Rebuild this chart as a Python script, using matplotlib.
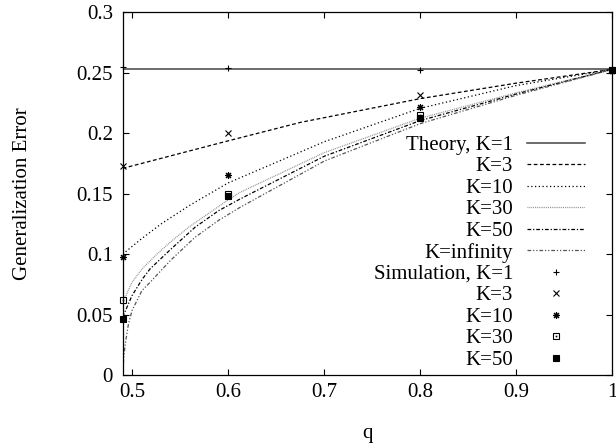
import numpy as np
import matplotlib
matplotlib.use("Agg")
import matplotlib.pyplot as plt
from matplotlib.legend_handler import HandlerTuple

plt.rcParams['font.family'] = ['Liberation Serif', 'DejaVu Serif']
plt.rcParams['font.size'] = 15

# theory curves
q_k1 = [0.49, 1.0]
e_k1 = [0.2529, 0.2529]

q_k3 = [0.49, 0.6, 0.675, 0.8, 0.9, 1.0]
e_k3 = [0.171, 0.1938, 0.209, 0.2287, 0.2415, 0.2529]

q_k10 = [0.49, 0.51, 0.53, 0.56, 0.6, 0.7, 0.8, 0.9, 1.0]
e_k10 = [0.100, 0.113, 0.125, 0.1405, 0.159, 0.193, 0.2207, 0.2395, 0.2529]

q_k30 = [0.49, 0.4997, 0.5101, 0.524, 0.5414, 0.5587, 0.576, 0.6, 0.6122, 0.7, 0.8, 0.9, 1.0]
e_k30 = [0.060, 0.0767, 0.0877, 0.0988, 0.1112, 0.1222, 0.1318, 0.145, 0.1511, 0.184, 0.2125, 0.2335, 0.2529]

q_k50 = [0.49, 0.4997, 0.5101, 0.5185, 0.54, 0.5653, 0.59, 0.6122, 0.7, 0.8, 0.9, 1.0]
e_k50 = [0.048, 0.0657, 0.079, 0.0878, 0.104, 0.1222, 0.136, 0.1456, 0.181, 0.2105, 0.2325, 0.2529]

q_kinf = [0.4902, 0.491, 0.4927, 0.496, 0.4997, 0.51, 0.5185, 0.54, 0.5653, 0.59, 0.6122, 0.7, 0.8, 0.9, 1.0]
e_kinf = [0.0, 0.014, 0.0258, 0.0423, 0.0533, 0.0698, 0.0767, 0.095, 0.1139, 0.128, 0.1387, 0.177, 0.208, 0.2315, 0.2529]

# simulation points
q_sim = [0.49, 0.6, 0.8, 1.0]
sim_k1 = [0.255, 0.2543, 0.2523, 0.2525]
sim_k3 = [0.1727, 0.2003, 0.2314, 0.252]
sim_k10 = [0.0978, 0.1659, 0.2218, 0.2515]
sim_k30 = [0.062, 0.150, 0.2155, 0.2525]
sim_k50 = [0.046, 0.1478, 0.2127, 0.2525]

xticks = [0.5, 0.6, 0.7, 0.8, 0.9, 1.0]
xticklabels = ['0.5', '0.6', '0.7', '0.8', '0.9', '1']
yticks = [0, 0.05, 0.1, 0.15, 0.2, 0.25, 0.3]
yticklabels = ['0', '0.05', '0.1', '0.15', '0.2', '0.25', '0.3']

fig = plt.figure(figsize=(6.16, 4.46), dpi=100)
ax = fig.add_axes([0.1992, 0.1592, 0.9935 - 0.1992, 0.972 - 0.1592])

h1, = ax.plot(q_k1, e_k1, color='#444444', lw=1.1, label='Theory, K=1')
h3, = ax.plot(q_k3, e_k3, color='black', lw=0.9, dashes=(3, 2), label='K=3')
h10, = ax.plot(q_k10, e_k10, color='black', lw=0.9, dashes=(1, 2), label='K=10')
h30, = ax.plot(q_k30, e_k30, color='#888888', lw=0.9, dashes=(0.7, 0.8), label='K=30')
h50, = ax.plot(q_k50, e_k50, color='black', lw=0.9, dashes=(3, 1.5, 1, 1.5), label='K=50')
hinf, = ax.plot(q_kinf, e_kinf, color='#555555', lw=0.9, dashes=(3, 1.5, 1, 1.5, 1, 1.5), label='K=infinity')

ms = 5
s1, = ax.plot(q_sim, sim_k1, ls='none', marker='+', ms=ms, mew=0.8, color='black', clip_on=False)
s3, = ax.plot(q_sim, sim_k3, ls='none', marker='x', ms=ms - 0.5, mew=0.8, color='black', clip_on=False)
s10, = ax.plot(q_sim, sim_k10, ls='none', marker=(8, 2, 0), ms=ms, mew=0.8, color='black', clip_on=False)
s30, = ax.plot(q_sim, sim_k30, ls='none', marker='s', ms=ms, mew=0.8, mfc='white', color='black', clip_on=False)
s30d, = ax.plot(q_sim, sim_k30, ls='none', marker='s', ms=1.2, mew=0, color='black', clip_on=False)
s50, = ax.plot(q_sim, sim_k50, ls='none', marker='s', ms=ms, mew=0.8, color='black', clip_on=False)

handles = [h1, h3, h10, h30, h50, hinf, s1, s3, s10, (s30, s30d), s50]
labels = ['Theory, K=1', 'K=3', 'K=10', 'K=30', 'K=50', 'K=infinity',
          'Simulation, K=1', 'K=3', 'K=10', 'K=30', 'K=50']
ax.legend(handles, labels, loc='upper right', bbox_to_anchor=(0.9448, 0.661),
          frameon=False, markerfirst=False, numpoints=1, handlelength=2.8,
          handletextpad=0.65, labelspacing=0.09, borderpad=0, borderaxespad=0,
          handler_map={tuple: HandlerTuple(ndivide=1)})

ax.set_xlim(0.49, 1.0)
ax.set_ylim(0, 0.3)
ax.set_xticks(xticks)
ax.set_xticklabels(xticklabels)
ax.set_yticks(yticks)
ax.set_yticklabels(yticklabels)
ax.tick_params(direction='in', length=4.3, width=0.8, top=True, right=True)
ax.tick_params(axis='y', pad=7)
ax.tick_params(axis='x', pad=6)
for sp in ax.spines.values():
    sp.set_linewidth(0.9)

ax.set_xlabel('q')
ax.set_ylabel('Generalization Error')
ax.xaxis.set_label_coords(0.5, -0.135)
ax.yaxis.set_label_coords(-0.185, 0.5)

fig.savefig('out.png', dpi=100)
